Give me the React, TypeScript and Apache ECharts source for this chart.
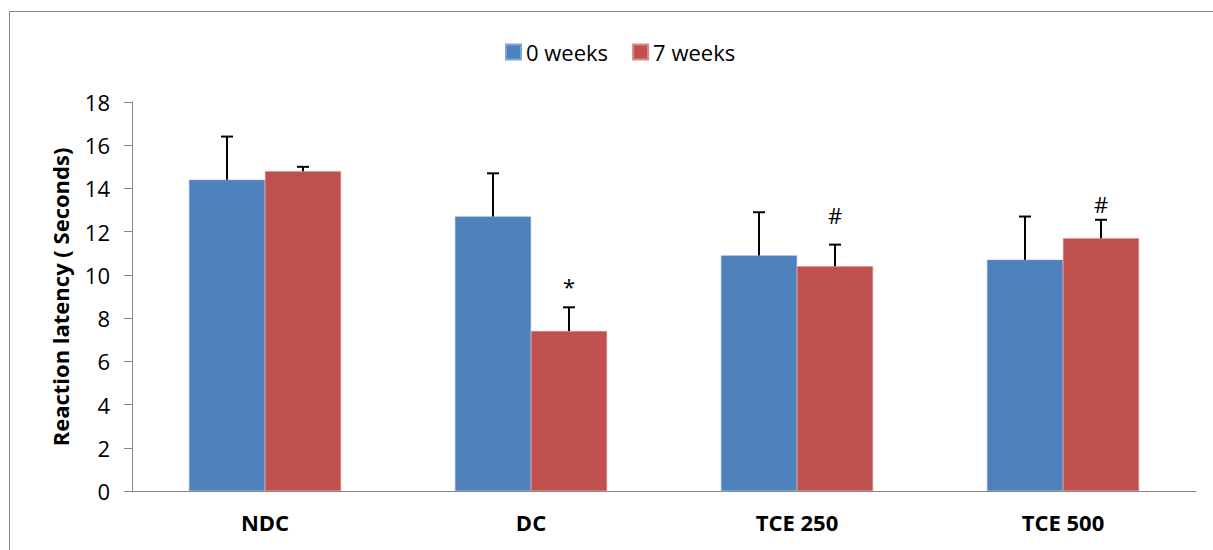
import React, { useEffect, useRef } from "react";
import * as echarts from "echarts";

const categories = ["NDC", "DC", "TCE 250", "TCE 500"];
const week0 = [14.4, 12.7, 10.9, 10.7];
const week0Sd = [2.0, 2.0, 2.0, 2.0];
const week7 = [14.8, 7.4, 10.4, 11.7];
const week7Sd = [0.2, 1.1, 1.0, 0.85];
const week7Marks = ["", "*", "#", "#"];
const markGaps = [0, 10, 19, 5];
const yTicks = { min: 0, max: 18, interval: 2 };

const BLUE = "#4F81BD";
const RED = "#C0504D";
const AXIS = "#868686";
const FONT = "'Open Sans', sans-serif";
const BAR_W = 76;

function errorRender(offset: number, marks?: string[]) {
  return (params: any, api: any) => {
    const i = api.value(0);
    const v = api.value(1);
    const sd = api.value(2);
    const base = api.coord([i, v]);
    const top = api.coord([i, v + sd]);
    const x = base[0] + offset;
    const children: any[] = [
      { type: "line", shape: { x1: x, y1: base[1], x2: x, y2: top[1] }, style: { stroke: "#000", lineWidth: 2 } },
      { type: "line", shape: { x1: x - 6, y1: top[1], x2: x + 6, y2: top[1] }, style: { stroke: "#000", lineWidth: 2 } },
    ];
    if (marks && marks[params.dataIndex]) {
      children.push({
        type: "text",
        x,
        y: top[1] - markGaps[params.dataIndex],
        style: { text: marks[params.dataIndex], font: `22px ${FONT}`, fill: "#000", align: "center", verticalAlign: "bottom" },
      });
    }
    return { type: "group", children };
  };
}

export default function App() {
  const ref = useRef<HTMLDivElement>(null);
  useEffect(() => {
    if (!ref.current) return;
    const chart = echarts.init(ref.current, null, { renderer: "svg" });
    chart.setOption({
      animation: false,
      backgroundColor: "#fff",
      textStyle: { fontFamily: FONT },
      grid: { left: 132, right: 17, top: 102, bottom: 59 },
      legend: {
        data: ["0 weeks", "7 weeks"],
        left: 500,
        top: 36,
        itemWidth: 15,
        itemHeight: 15,
        itemGap: 24,
        icon: "rect",
        textStyle: { fontSize: 22, color: "#000", fontFamily: FONT },
      },
      xAxis: {
        type: "category",
        data: categories,
        axisLine: { lineStyle: { color: AXIS, width: 1 } },
        axisTick: { length: 7, lineStyle: { color: AXIS } },
        axisLabel: { fontSize: 22, fontWeight: "bold", color: "#000", margin: 20, fontFamily: FONT },
      },
      yAxis: {
        type: "value",
        min: yTicks.min,
        max: yTicks.max,
        interval: yTicks.interval,
        splitLine: { show: false },
        axisLine: { show: true, lineStyle: { color: AXIS, width: 1 } },
        axisTick: { show: true, length: 8, lineStyle: { color: AXIS } },
        axisLabel: { fontSize: 22, color: "#000", margin: 22, fontFamily: FONT },
      },
      graphic: [
        {
          type: "rect",
          shape: { x: 9.5, y: 11.5, width: 1230, height: 560 },
          style: { fill: "none", stroke: AXIS, lineWidth: 1 },
          silent: true,
        },
        {
          type: "text",
          x: 60,
          y: 297,
          rotation: Math.PI / 2,
          style: {
            text: "Reaction latency ( Seconds)",
            font: `bold 22px ${FONT}`,
            fill: "#000",
            align: "center",
            verticalAlign: "middle",
          },
        },
      ],
      series: [
        {
          name: "0 weeks",
          type: "bar",
          data: week0,
          barWidth: BAR_W,
          barGap: "0%",
          itemStyle: { color: BLUE, borderColor: "#7fa3d0", borderWidth: 0.5 },
        },
        {
          name: "7 weeks",
          type: "bar",
          data: week7,
          barWidth: BAR_W,
          barGap: "0%",
          itemStyle: { color: RED, borderColor: "#d68a88", borderWidth: 0.5 },
        },
        {
          name: "err0",
          type: "custom",
          renderItem: errorRender(-BAR_W / 2),
          data: week0.map((v, i) => [i, v, week0Sd[i]]),
          encode: { x: 0, y: 1 },
          z: 5,
        },
        {
          name: "err7",
          type: "custom",
          renderItem: errorRender(BAR_W / 2, week7Marks),
          data: week7.map((v, i) => [i, v, week7Sd[i]]),
          encode: { x: 0, y: 1 },
          z: 5,
        },
      ],
    });
    return () => chart.dispose();
  }, []);
  return <div ref={ref} style={{ position: "absolute", left: 0, top: 0, width: 1213, height: 550 }} />;
}
